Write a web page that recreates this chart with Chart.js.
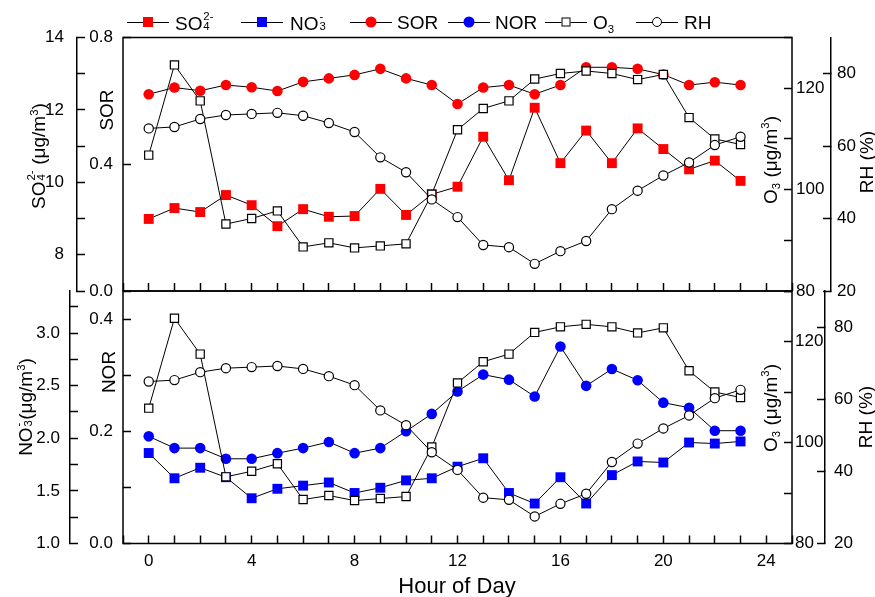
<!DOCTYPE html>
<html>
<head>
<meta charset="utf-8">
<script src="https://cdn.jsdelivr.net/npm/chart.js@4.4.1/dist/chart.umd.min.js"></script>
<style>
  body { margin: 0; background: #fff; }
  #wrap { position: relative; width: 875px; height: 597px; font-family: "Liberation Sans", Arial, sans-serif; color: #000; }
  #wrap canvas { position: absolute; left: 0; top: 0; }
  sub, sup { font-size: 0.6em; line-height: 0; }
  sub { vertical-align: -0.35em; }
  .ss { display: inline-block; position: relative; width: 0.6em; height: 1em; }
  .ss.n { width: 0.4em; }
  .ss .up, .ss .dn { position: absolute; left: 0.08em; font-size: 0.6em; line-height: 1; }
  .ss .up { top: 0.02em; }
  .ss .dn { top: 0.85em; }
  .lg { position: absolute; top: 11px; font-size: 19px; line-height: 24px; white-space: nowrap; }
  .sym { position: absolute; top: 22px; width: 42px; height: 1px; background: #000; }
  .mk { position: absolute; left: 21px; top: 0; transform: translate(-50%, -50%); box-sizing: border-box; }
  .sq { width: 10px; height: 10px; }
  .dot { width: 11px; height: 11px; border-radius: 50%; }
  .osq { width: 9px; height: 9px; background: #fff; border: 1.2px solid #000; }
  .odot { width: 10px; height: 10px; border-radius: 50%; background: #fff; border: 1.2px solid #000; }
  .title { position: absolute; white-space: nowrap; font-size: 19px; line-height: 1; transform: translate(-50%, -50%) rotate(-90deg); }
  .xtitle { position: absolute; white-space: nowrap; font-size: 22px; line-height: 1; transform: translate(-50%, -50%); }
</style>
</head>
<body>
<div id="wrap">
  <canvas id="upper" width="875" height="597"></canvas>
  <canvas id="lower" width="875" height="597"></canvas>

  <!-- legend -->
  <div class="sym" style="left:127px"><div class="mk sq" style="background:#f00"></div></div>
  <div class="lg" style="left:175px">SO<span class="ss"><span class="up">2-</span><span class="dn">4</span></span></div>
  <div class="sym" style="left:241px"><div class="mk sq" style="background:#00f"></div></div>
  <div class="lg" style="left:290px">NO<span class="ss n"><span class="up">-</span><span class="dn">3</span></span></div>
  <div class="sym" style="left:350px"><div class="mk dot" style="background:#f00"></div></div>
  <div class="lg" style="left:397px">SOR</div>
  <div class="sym" style="left:448px"><div class="mk dot" style="background:#00f"></div></div>
  <div class="lg" style="left:495px">NOR</div>
  <div class="sym" style="left:545px"><div class="mk osq"></div></div>
  <div class="lg" style="left:593px">O<sub>3</sub></div>
  <div class="sym" style="left:636px"><div class="mk odot"></div></div>
  <div class="lg" style="left:684px">RH</div>

  <!-- axis titles -->
  <div class="title" style="left:37px; top:156px">SO<span class="ss"><span class="up">2-</span><span class="dn">4</span></span> (μg/m<sup>3</sup>)</div>
  <div class="title" style="left:106px; top:110px">SOR</div>
  <div class="title" style="left:770px; top:160px">O<sub>3</sub> (μg/m<sup>3</sup>)</div>
  <div class="title" style="left:866px; top:162px">RH (%)</div>
  <div class="title" style="left:24px; top:407px">NO<span class="ss n"><span class="up">-</span><span class="dn">3</span></span>(μg/m<sup>3</sup>)</div>
  <div class="title" style="left:108px; top:372px">NOR</div>
  <div class="title" style="left:770px; top:408px">O<sub>3</sub> (μg/m<sup>3</sup>)</div>
  <div class="title" style="left:865px; top:417px">RH (%)</div>
  <div class="xtitle" style="left:457px; top:586px">Hour of Day</div>
</div>

<script>
var hours = [0, 1, 2, 3, 4, 5, 6, 7, 8, 9, 10, 11, 12, 13, 14, 15, 16, 17, 18, 19, 20, 21, 22, 23];

// upper panel: sulfate and its oxidation ratio
var so4 = [8.99, 9.29, 9.18, 9.65, 9.37, 8.79, 9.26, 9.05, 9.07, 9.82, 9.10, 9.67, 9.88, 11.26, 10.06, 12.06, 10.53, 11.43, 10.53, 11.49, 10.92, 10.36, 10.60, 10.04];
var sor = [0.621, 0.642, 0.632, 0.650, 0.643, 0.631, 0.660, 0.671, 0.682, 0.701, 0.671, 0.650, 0.590, 0.642, 0.650, 0.621, 0.650, 0.706, 0.706, 0.701, 0.683, 0.650, 0.659, 0.650];

// lower panel: nitrate and its oxidation ratio
var no3 = [1.86, 1.62, 1.72, 1.63, 1.43, 1.52, 1.55, 1.58, 1.48, 1.53, 1.60, 1.62, 1.73, 1.81, 1.48, 1.38, 1.63, 1.38, 1.65, 1.78, 1.77, 1.96, 1.95, 1.97];
var nor = [0.191, 0.170, 0.170, 0.151, 0.151, 0.161, 0.170, 0.181, 0.161, 0.170, 0.200, 0.231, 0.271, 0.301, 0.292, 0.262, 0.351, 0.281, 0.311, 0.291, 0.251, 0.242, 0.201, 0.201];

// ozone and humidity, drawn in both panels
var o3 = [106.8, 124.6, 117.5, 93.2, 94.3, 95.8, 88.7, 89.5, 88.5, 88.9, 89.3, 99.1, 111.8, 116.0, 117.5, 121.8, 122.9, 123.4, 122.9, 121.7, 122.7, 114.2, 110.0, 108.9];
var rh = [64.9, 65.3, 67.5, 68.6, 68.9, 69.2, 68.4, 66.4, 63.9, 56.9, 52.8, 45.3, 40.4, 32.7, 32.1, 27.5, 31.0, 33.8, 42.6, 47.7, 51.9, 55.5, 60.3, 62.6];

// labelled tick values
var hourLabels = [0, 4, 8, 12, 16, 20, 24];
var so4Labels = [8, 10, 12, 14];
var sorLabels = [0, 0.4, 0.8];
var no3Labels = [1.0, 1.5, 2.0, 2.5, 3.0];
var norLabels = [0, 0.2, 0.4];
var o3Labels = [80, 100, 120];
var rhLabels = [20, 40, 60, 80];

Chart.defaults.font.family = '"Liberation Sans", Arial, sans-serif';
Chart.defaults.color = '#000';

// only the listed values get a label, the rest are plain tick marks
function pick(labels, digits) {
    return function (value) {
        var hit = labels.some(function (l) { return Math.abs(l - value) < 1e-6; });
        return hit ? Number(value).toFixed(digits) : '';
    };
}

function yAxis(cfg) {
    return {
        type: 'linear',
        position: cfg.position,
        weight: cfg.weight,
        min: cfg.min,
        max: cfg.max,
        border: { display: cfg.line, color: '#000', width: 1.5 },
        grid: { drawOnChartArea: false, tickLength: -8, tickColor: '#000', tickWidth: 1.5 },
        ticks: {
            stepSize: cfg.step,
            includeBounds: false,
            autoSkip: false,
            padding: cfg.pad,
            font: { size: 17 },
            callback: pick(cfg.labels, cfg.digits)
        },
        afterFit: function (scale) {
            scale.width = cfg.width;
            scale.paddingTop = 0;
            scale.paddingBottom = 0;
        }
    };
}

function xAxis(showLabels, height) {
    return {
        type: 'linear',
        position: 'bottom',
        min: -1,
        max: 25,
        border: { display: false },
        grid: { drawOnChartArea: false, tickLength: -8, tickColor: '#000', tickWidth: 1.5 },
        ticks: {
            display: showLabels,
            stepSize: 1,
            autoSkip: false,
            maxRotation: 0,
            padding: 16,
            font: { size: 17 },
            callback: pick(hourLabels, 0)
        },
        afterFit: function (scale) {
            scale.height = height;
            scale.paddingLeft = 0;
            scale.paddingRight = 0;
        }
    };
}

var LOOK = {
    redSquare:  { shape: 'rect',   radius: 7,   fill: '#ff0000', edge: '#ff0000', edgeWidth: 0,   order: 3 },
    blueSquare: { shape: 'rect',   radius: 7,   fill: '#0000ff', edge: '#0000ff', edgeWidth: 0,   order: 3 },
    redDot:     { shape: 'circle', radius: 5.3, fill: '#ff0000', edge: '#ff0000', edgeWidth: 0,   order: 2 },
    blueDot:    { shape: 'circle', radius: 5.3, fill: '#0000ff', edge: '#0000ff', edgeWidth: 0,   order: 2 },
    openSquare: { shape: 'rect',   radius: 5.8, fill: '#ffffff', edge: '#000000', edgeWidth: 1.2, order: 1 },
    openDot:    { shape: 'circle', radius: 4.6, fill: '#ffffff', edge: '#000000', edgeWidth: 1.2, order: 0 }
};

function series(label, values, axis, look) {
    return {
        label: label,
        data: hours.map(function (h, i) { return { x: h, y: values[i] }; }),
        yAxisID: axis,
        order: look.order,
        clip: false,
        borderColor: '#000',
        borderWidth: 1,
        pointStyle: look.shape,
        pointRadius: look.radius,
        pointBackgroundColor: look.fill,
        pointBorderColor: look.edge,
        pointBorderWidth: look.edgeWidth
    };
}

// box round the plot area
var framePlugin = {
    id: 'frame',
    beforeDatasetsDraw: function (chart) {
        var a = chart.chartArea;
        var ctx = chart.ctx;
        ctx.save();
        ctx.strokeStyle = '#000';
        ctx.lineWidth = 1.5;
        ctx.strokeRect(a.left, a.top, a.right - a.left, a.bottom - a.top);
        ctx.restore();
    }
};

function buildPanel(el, datasets, scales, padding) {
    return new Chart(el, {
        type: 'line',
        data: { datasets: datasets },
        options: {
            responsive: false,
            animation: false,
            events: [],
            layout: { autoPadding: false, padding: padding },
            plugins: { legend: { display: false }, tooltip: { enabled: false } },
            scales: scales
        },
        plugins: [framePlugin]
    });
}

//===================================== upper panel
buildPanel(document.getElementById('upper'), [
    series('SO4', so4, 'ySO4', LOOK.redSquare),
    series('SOR', sor, 'ySOR', LOOK.redDot),
    series('O3', o3, 'yO3', LOOK.openSquare),
    series('RH', rh, 'yRH', LOOK.openDot)
], {
    x: xAxis(false, 0),
    ySO4: yAxis({ position: 'left', weight: 2, min: 7, max: 14, step: 1, labels: so4Labels, digits: 0, width: 77, pad: 21, line: true }),
    ySOR: yAxis({ position: 'left', weight: 1, min: 0, max: 0.8, step: 0.4, labels: sorLabels, digits: 1, width: 46, pad: 18, line: false }),
    yO3:  yAxis({ position: 'right', weight: 1, min: 80, max: 130, step: 10, labels: o3Labels, digits: 0, width: 39, pad: 12, line: false }),
    yRH:  yAxis({ position: 'right', weight: 2, min: 20, max: 90, step: 20, labels: rhLabels, digits: 0, width: 44, pad: 14, line: true })
}, { left: 0, right: 0, top: 37.5, bottom: 306 });

//===================================== lower panel
buildPanel(document.getElementById('lower'), [
    series('NO3', no3, 'yNO3', LOOK.blueSquare),
    series('NOR', nor, 'yNOR', LOOK.blueDot),
    series('O3', o3, 'yO3', LOOK.openSquare),
    series('RH', rh, 'yRH', LOOK.openDot)
], {
    x: xAxis(true, 53.5),
    yNO3: yAxis({ position: 'left', weight: 2, min: 1.0, max: 3.4, step: 0.25, labels: no3Labels, digits: 1, width: 70, pad: 18, line: true }),
    yNOR: yAxis({ position: 'left', weight: 1, min: 0, max: 0.45, step: 0.1, labels: norLabels, digits: 1, width: 53, pad: 18, line: false }),
    yO3:  yAxis({ position: 'right', weight: 1, min: 80, max: 130, step: 10, labels: o3Labels, digits: 0, width: 33, pad: 11, line: false }),
    yRH:  yAxis({ position: 'right', weight: 2, min: 20, max: 90, step: 20, labels: rhLabels, digits: 0, width: 50, pad: 17, line: true })
}, { left: 0, right: 0, top: 291, bottom: 0 });
</script>
</body>
</html>
